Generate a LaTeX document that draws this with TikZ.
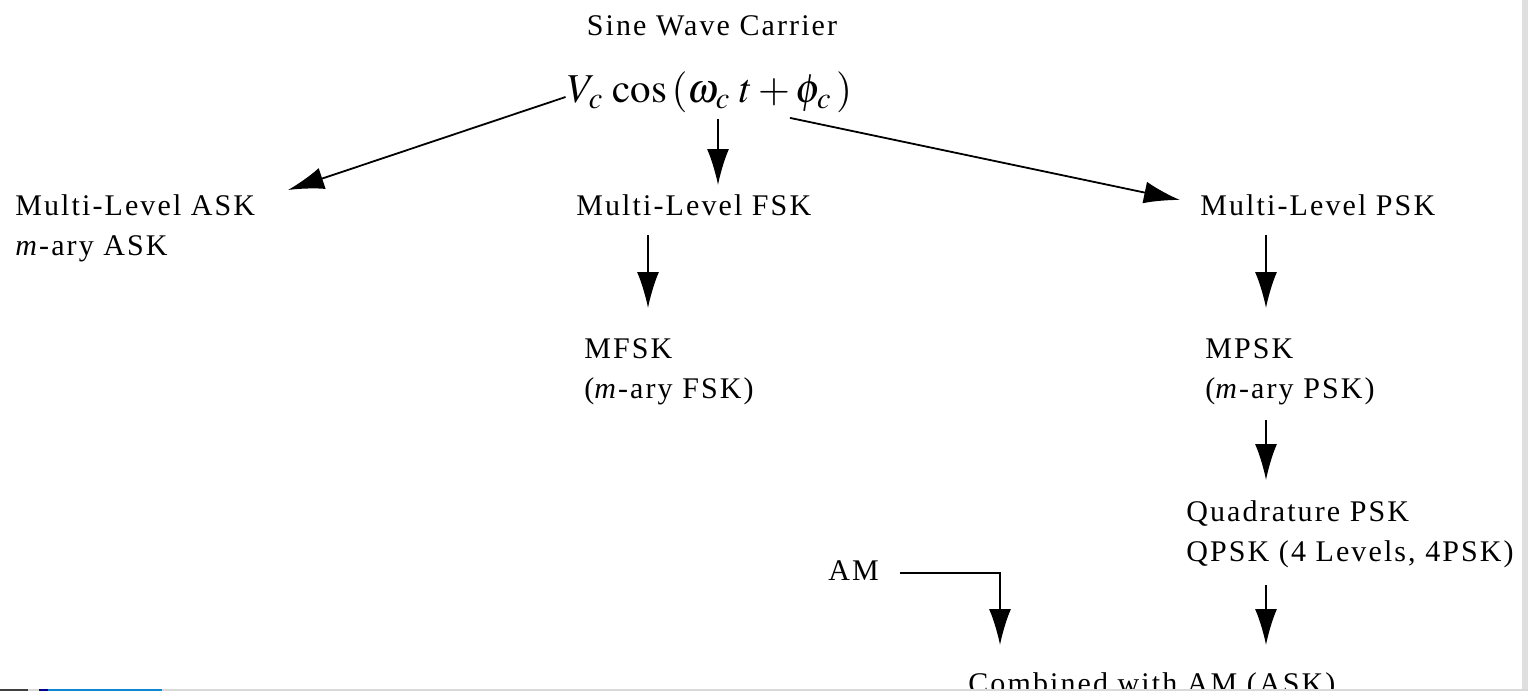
\documentclass[tikz,border=0pt]{standalone}
\usepackage{mathptmx}
\usepackage{fontspec}
\setmainfont{Liberation Serif}[LetterSpace=7]
\usetikzlibrary{arrows.meta}

\tikzset{
  lbl/.style={anchor=north west, inner sep=0pt, align=left, font=\fontsize{15}{20}\selectfont},
  arr/.style={line width=0.9pt, -{Latex[length=18pt,width=11pt]}},
}

\begin{document}
\begin{tikzpicture}[x=0.5pt,y=-0.5pt]
\useasboundingbox (0,0) rectangle (1528,691);
\node[lbl, anchor=north] (carrier) at (712,15) {Sine Wave Carrier};
\node[inner sep=0pt, font=\fontsize{20.5}{24}\selectfont] (vc) at (710,92) {$V_{c}\,\cos\,(\omega_{c}\;t+\phi_{c}\,)$};
\node[lbl] (askl) at (15,194) {Multi-Level ASK\\\textit{m}-ary ASK};
\node[lbl] (fskl) at (576,194) {Multi-Level FSK};
\node[lbl] (pskl) at (1200,194) {Multi-Level PSK};
\node[lbl] (mfsk) at (584,338) {MFSK\\(\textit{m}-ary FSK)};
\node[lbl] (mpsk) at (1205,338) {MPSK\\(\textit{m}-ary PSK)};
\node[lbl] (qpsk) at (1186,500) {Quadrature PSK\\QPSK (4 Levels, 4PSK)};
\node[lbl] (am) at (828,560) {AM};
\node[lbl] (comb) at (968,672) {Combined with AM (ASK)};
\draw[arr] ([xshift=-1pt,yshift=-2.5pt]vc.west) -- ([xshift=136.5pt,yshift=2pt]askl.north west);
\draw[arr] ([xshift=4pt,yshift=-3pt]vc.south) -- ([xshift=4pt,yshift=4.5pt]vc.south |- fskl.north);
\draw[arr] ([xshift=40pt,yshift=-2.5pt]vc.south) -- ([xshift=-10pt,yshift=-3pt]pskl.north west);
\draw[arr] ([xshift=36pt,yshift=-20.5pt]fskl.north west) -- ([xshift=32pt,yshift=15pt]mfsk.north west);
\draw[arr] ([xshift=33pt,yshift=-20.5pt]pskl.north west) -- ([xshift=30.5pt,yshift=15pt]mpsk.north west);
\draw[arr] ([xshift=30.5pt,yshift=-41pt]mpsk.north west) -- ([xshift=40pt,yshift=10pt]qpsk.north west);
\draw[arr] ([xshift=40pt,yshift=-42.5pt]qpsk.north west) -- ([xshift=149pt,yshift=13.5pt]comb.north west);
\draw[arr] ([xshift=36pt,yshift=-6.5pt]am.north west) -| ([xshift=16pt,yshift=13.5pt]comb.north west);
\fill[gray!25] (1522,0) rectangle (1528,691);
\fill[gray!30] (0,689) rectangle (1528,691);
\fill[black!75] (0,689) rectangle (28,691);
\fill[blue!60!black] (39,689) rectangle (48,691);
\fill[cyan!70!blue] (48,689) rectangle (162,691);
\end{tikzpicture}
\end{document}
